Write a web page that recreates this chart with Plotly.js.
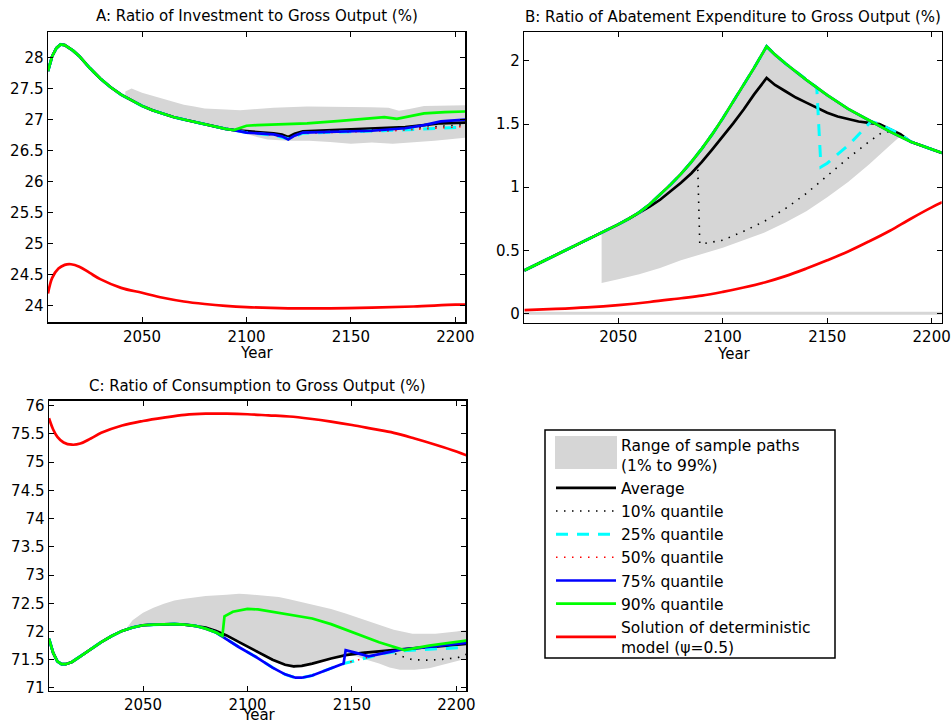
<!DOCTYPE html>
<html><head><meta charset="utf-8">
<script src="https://cdn.plot.ly/plotly-3.0.1.min.js"></script>
<style>html,body{margin:0;padding:0;background:#fff}#chart{width:951px;height:723px}</style>
</head><body><div id="chart"></div>
<script>
// ---------- Panel A: Investment / Gross Output (%) ----------
const commonA_years = [2005,2007,2009,2011,2013,2017,2020,2025,2030,2035,2040,2045,2050,2055,2060,2065,2070,2075,2080,2085,2090,2094];
const commonA = [27.78,28.02,28.15,28.21,28.20,28.11,28.02,27.83,27.66,27.52,27.40,27.31,27.22,27.15,27.09,27.04,27.00,26.96,26.92,26.88,26.85,26.83];
const avgA_years = [2100,2105,2113,2117,2120,2123,2127,2135,2145,2160,2176,2185,2193,2205];
const avgA = [26.81,26.80,26.78,26.76,26.72,26.77,26.81,26.82,26.83,26.85,26.88,26.91,26.94,26.95];
const q10A_years = [2100,2113,2120,2127,2145,2160,2180,2205];
const q10A = [26.80,26.77,26.71,26.80,26.82,26.84,26.86,26.92];
const q25A_years = [2100,2113,2120,2127,2150,2165,2180,2195,2205];
const q25A = [26.79,26.75,26.69,26.78,26.80,26.82,26.84,26.86,26.88];
const q50A_years = [2100,2113,2120,2127,2160,2170,2190,2205];
const q50A = [26.79,26.75,26.69,26.78,26.81,26.82,26.86,26.89];
const q75A_years = [2100,2113,2117,2120,2123,2127,2145,2160,2176,2185,2193,2205];
const q75A = [26.79,26.76,26.73,26.68,26.74,26.79,26.80,26.82,26.86,26.91,26.97,27.00];
const q90A_years = [2100,2105,2113,2129,2145,2155,2161,2166,2172,2177,2185,2195,2205];
const q90A = [26.90,26.91,26.92,26.94,26.98,27.01,27.03,27.04,27.01,27.04,27.10,27.12,27.13];
const bandA_up_years = [2042,2045,2050,2055,2060,2065,2070,2075,2080,2090,2097,2105,2113,2129,2145,2160,2168,2173,2178,2185,2205];
const bandA_up = [27.45,27.50,27.43,27.38,27.33,27.29,27.24,27.21,27.18,27.16,27.15,27.17,27.19,27.21,27.21,27.20,27.19,27.14,27.17,27.22,27.23];
const bandA_lo_years = [2042,2045,2050,2060,2070,2080,2090,2094,2100,2105,2110,2120,2130,2140,2150,2160,2170,2180,2190,2205];
const bandA_lo = [27.36,27.31,27.22,27.09,27.00,26.92,26.85,26.83,26.77,26.72,26.68,26.66,26.66,26.64,26.61,26.63,26.61,26.64,26.66,26.71];
const detA_years = [2005,2007,2010,2013,2016,2020,2025,2030,2040,2050,2060,2070,2080,2090,2100,2120,2140,2160,2180,2200,2205];
const detA = [24.20,24.45,24.60,24.66,24.67,24.63,24.53,24.43,24.29,24.21,24.13,24.07,24.03,24.00,23.98,23.96,23.96,23.97,23.99,24.02,24.02];

// ---------- Panel B: Abatement expenditure / Gross Output (%) ----------
const commonB_years = [2005,2010,2020,2030,2040,2045,2050,2055];
const commonB = [0.34,0.38,0.46,0.54,0.62,0.66,0.705,0.75];
const q90B_years = [2060,2065,2070,2075,2080,2085,2090,2095,2100,2105,2110,2115,2121,2125,2130,2140,2150,2160,2170,2180,2190,2200,2205];
const q90B = [0.80,0.865,0.94,1.02,1.105,1.20,1.305,1.42,1.545,1.675,1.81,1.945,2.115,2.05,1.98,1.85,1.73,1.62,1.53,1.44,1.36,1.30,1.27];
const q75B_years = q90B_years;
const q75B = q90B;
const q50B_years = q90B_years;
const q50B = q90B;
const avgB_years = [2060,2065,2070,2075,2080,2085,2090,2095,2100,2105,2110,2115,2121,2125,2130,2135,2140,2145,2150,2155,2160,2165,2170,2175,2180,2185,2190,2200,2205];
const avgB = [0.795,0.845,0.90,0.965,1.035,1.11,1.20,1.30,1.40,1.505,1.615,1.735,1.865,1.81,1.76,1.71,1.67,1.63,1.59,1.56,1.54,1.52,1.51,1.50,1.46,1.42,1.36,1.30,1.27];
const q10B_years = [2060,2065,2070,2075,2080,2085,2088,2089,2090,2100,2110,2120,2130,2140,2150,2160,2170,2176,2180,2190,2200,2205];
const q10B = [0.795,0.845,0.90,0.965,1.035,1.11,1.17,0.55,0.55,0.58,0.65,0.73,0.83,0.95,1.09,1.23,1.36,1.43,1.44,1.36,1.30,1.27];
const q25B_years = [2060,2065,2070,2075,2080,2085,2090,2095,2100,2105,2110,2115,2121,2125,2130,2140,2145,2147,2150,2160,2171,2175,2180,2185,2190,2200,2205];
const q25B = [0.80,0.865,0.94,1.02,1.105,1.20,1.305,1.42,1.545,1.675,1.81,1.945,2.115,2.05,1.98,1.85,1.79,1.16,1.19,1.33,1.52,1.50,1.46,1.42,1.36,1.30,1.27];
const bandB_up_years = [2042,2045,2050,2055,2060,2065,2070,2075,2080,2085,2090,2095,2100,2105,2110,2115,2121,2125,2130,2140,2150,2160,2170,2180,2185];
const bandB_up = [0.63,0.66,0.705,0.75,0.80,0.865,0.94,1.02,1.105,1.20,1.305,1.42,1.545,1.675,1.81,1.945,2.115,2.05,1.98,1.85,1.73,1.62,1.53,1.44,1.42];
const bandB_lo_years = [2042,2050,2060,2070,2080,2090,2100,2110,2120,2130,2140,2150,2160,2170,2180,2186];
const bandB_lo = [0.24,0.27,0.31,0.36,0.42,0.47,0.52,0.58,0.64,0.72,0.81,0.92,1.04,1.18,1.33,1.42];
const zeroB_years = [2005,2205];
const zeroB = [0,0];
const detB_years = [2005,2020,2035,2050,2065,2080,2090,2100,2110,2120,2130,2140,2150,2160,2170,2180,2190,2200,2205];
const detB = [0.025,0.035,0.048,0.066,0.09,0.12,0.14,0.17,0.205,0.245,0.295,0.355,0.42,0.49,0.57,0.655,0.75,0.84,0.88];

// ---------- Panel C: Consumption / Gross Output (%) ----------
const commonC_years = [2005,2007,2009,2011,2013,2016,2020,2025,2030,2035,2040,2045,2050,2055,2060,2065,2070,2075];
const commonC = [71.87,71.62,71.47,71.42,71.42,71.46,71.56,71.69,71.81,71.92,72.01,72.07,72.11,72.12,72.13,72.13,72.12,72.10];
const q90C_years = [2080,2085,2088,2089,2093,2100,2105,2112,2120,2131,2140,2147,2155,2163,2175,2187,2205];
const q90C = [72.05,71.98,71.92,72.27,72.35,72.40,72.39,72.35,72.30,72.23,72.13,72.03,71.92,71.81,71.67,71.75,71.84];
const avgC_years = [2080,2085,2090,2096,2104,2112,2118,2122,2126,2131,2140,2147,2155,2163,2179,2190,2205];
const avgC = [72.07,72.01,71.93,71.81,71.65,71.50,71.41,71.38,71.39,71.43,71.52,71.58,71.62,71.65,71.70,71.73,71.78];
const q75C_years = [2080,2085,2088,2096,2104,2112,2118,2123,2126,2131,2146,2147,2152,2158,2166,2174,2180,2190,2205];
const q75C = [72.05,71.98,71.91,71.72,71.55,71.36,71.24,71.18,71.18,71.22,71.43,71.67,71.62,71.56,71.62,71.68,71.70,71.74,71.80];
const q25C_years = [2080,2085,2088,2096,2104,2112,2118,2123,2126,2131,2146,2148,2157,2165,2175,2185,2195,2205];
const q25C = [72.05,71.98,71.91,71.72,71.55,71.36,71.24,71.18,71.18,71.22,71.43,71.45,71.54,71.61,71.66,71.68,71.70,71.72];
const q50C_years = [2080,2085,2088,2096,2104,2112,2118,2123,2126,2131,2146,2147,2153,2158,2166,2174,2180,2190,2205];
const q50C = [72.05,71.98,71.91,71.72,71.55,71.36,71.24,71.18,71.18,71.22,71.43,71.44,71.49,71.55,71.62,71.68,71.70,71.74,71.80];
const q10C_years = [2080,2085,2090,2096,2104,2112,2118,2122,2126,2131,2140,2147,2155,2163,2168,2172,2179,2187,2195,2201,2205];
const q10C = [72.07,72.01,71.93,71.81,71.65,71.50,71.41,71.38,71.39,71.43,71.52,71.58,71.62,71.65,71.66,71.58,71.50,71.49,71.51,71.54,71.60];
const bandC_up_years = [2042,2045,2050,2055,2060,2065,2070,2080,2090,2096,2100,2110,2115,2120,2131,2140,2147,2155,2163,2170,2179,2190,2200,2205];
const bandC_up = [72.05,72.20,72.33,72.42,72.49,72.55,72.58,72.63,72.65,72.67,72.66,72.62,72.61,72.57,72.48,72.40,72.32,72.22,72.11,72.03,71.96,71.96,72.00,72.03];
const bandC_lo_years = [2042,2045,2050,2055,2060,2065,2070,2075,2080,2085,2088,2090,2096,2104,2112,2118,2122,2126,2131,2140,2147,2152,2155,2163,2168,2173,2180,2187,2195,2205];
const bandC_lo = [72.03,72.07,72.11,72.12,72.13,72.13,72.12,72.10,72.05,71.97,71.91,71.93,71.81,71.65,71.50,71.41,71.38,71.39,71.43,71.52,71.58,71.56,71.52,71.43,71.36,71.32,71.32,71.35,71.42,71.52];
const detC_years = [2005,2007,2009,2012,2016,2020,2025,2030,2040,2050,2060,2070,2080,2090,2100,2110,2120,2130,2140,2150,2160,2170,2180,2190,2200,2205];
const detC = [75.78,75.58,75.45,75.35,75.31,75.33,75.42,75.52,75.65,75.73,75.79,75.84,75.86,75.86,75.85,75.83,75.81,75.77,75.72,75.66,75.59,75.52,75.42,75.31,75.19,75.12];

// ---------- Tick labels ----------
const xTicks = [2050,2100,2150,2200];
const xTickText = ['2050','2100','2150','2200'];
const yTicksA = [24,24.5,25,25.5,26,26.5,27,27.5,28];
const yTickTextA = ['24','24.5','25','25.5','26','26.5','27','27.5','28'];
const yTicksB = [0,0.5,1,1.5,2];
const yTickTextB = ['0','0.5','1','1.5','2'];
const yTicksC = [71,71.5,72,72.5,73,73.5,74,74.5,75,75.5,76];
const yTickTextC = ['71','71.5','72','72.5','73','73.5','74','74.5','75','75.5','76'];

const legendNames = ['Range of sample paths<br>(1% to 99%)','Average','10% quantile','25% quantile','50% quantile','75% quantile','90% quantile','Solution of deterministic<br>model (\u03c8=0.5)'];

// ---------- Build ----------
const FONT = 'DejaVu Sans';
const BAND = '#d6d6d6';
const styles = {
  avg: {color:'#000000', width:2.7},
  q10: {color:'#000000', width:1.6, dash:'1.5px,6.5px'},
  q25: {color:'#00ffff', width:3, dash:'12px,9px'},
  q50: {color:'#ff0000', width:1.6, dash:'1.5px,6.5px'},
  q75: {color:'#0000ff', width:2.7},
  q90: {color:'#00ff00', width:2.7},
  det: {color:'#ff0000', width:2.7, shape:'spline', smoothing:1}
};

const traces = [];
function band(xa, ya, upY, up, loY, lo, show){
  traces.push({x: upY.concat(loY.slice().reverse()), y: up.concat(lo.slice().reverse()),
    xaxis:xa, yaxis:ya, mode:'lines', fill:'toself', fillcolor:BAND,
    line:{width:0, color:BAND}, name:legendNames[0], legendgroup:'band',
    showlegend:show, hoverinfo:'skip'});
}
function line(xa, ya, xs, ys, key, idx, show){
  traces.push({x:xs, y:ys, xaxis:xa, yaxis:ya, mode:'lines', line:Object.assign({}, styles[key]),
    name:legendNames[idx], legendgroup:key, showlegend:show, hoverinfo:'skip'});
}
function cat(a,b){return a.concat(b);}

// Panel A
band('x','y', bandA_up_years, bandA_up, bandA_lo_years, bandA_lo, true);
line('x','y', cat(commonA_years,avgA_years), cat(commonA,avgA), 'avg',1,true);
line('x','y', cat(commonA_years,q10A_years), cat(commonA,q10A), 'q10',2,true);
line('x','y', cat(commonA_years,q25A_years), cat(commonA,q25A), 'q25',3,true);
line('x','y', cat(commonA_years,q50A_years), cat(commonA,q50A), 'q50',4,true);
line('x','y', cat(commonA_years,q75A_years), cat(commonA,q75A), 'q75',5,true);
line('x','y', cat(commonA_years,q90A_years), cat(commonA,q90A), 'q90',6,true);
line('x','y', detA_years, detA, 'det',7,true);

// Panel B
traces.push({x:zeroB_years, y:zeroB, xaxis:'x2', yaxis:'y2', mode:'lines', line:{color:BAND, width:3}, showlegend:false, hoverinfo:'skip'});
band('x2','y2', bandB_up_years, bandB_up, bandB_lo_years, bandB_lo, false);
line('x2','y2', cat(commonB_years,avgB_years), cat(commonB,avgB), 'avg',1,false);
line('x2','y2', cat(commonB_years,q10B_years), cat(commonB,q10B), 'q10',2,false);
line('x2','y2', cat(commonB_years,q25B_years), cat(commonB,q25B), 'q25',3,false);
line('x2','y2', cat(commonB_years,q50B_years), cat(commonB,q50B), 'q50',4,false);
line('x2','y2', cat(commonB_years,q75B_years), cat(commonB,q75B), 'q75',5,false);
line('x2','y2', cat(commonB_years,q90B_years), cat(commonB,q90B), 'q90',6,false);
line('x2','y2', detB_years, detB, 'det',7,false);

// Panel C
band('x3','y3', bandC_up_years, bandC_up, bandC_lo_years, bandC_lo, false);
line('x3','y3', cat(commonC_years,avgC_years), cat(commonC,avgC), 'avg',1,false);
line('x3','y3', cat(commonC_years,q10C_years), cat(commonC,q10C), 'q10',2,false);
line('x3','y3', cat(commonC_years,q25C_years), cat(commonC,q25C), 'q25',3,false);
line('x3','y3', cat(commonC_years,q50C_years), cat(commonC,q50C), 'q50',4,false);
line('x3','y3', cat(commonC_years,q75C_years), cat(commonC,q75C), 'q75',5,false);
line('x3','y3', cat(commonC_years,q90C_years), cat(commonC,q90C), 'q90',6,false);
line('x3','y3', detC_years, detC, 'det',7,false);

const W = 951, H = 723;
function ax(dom, range, tv, tt, anchor){
  return {domain:dom, range:range, anchor:anchor, tickmode:'array', tickvals:tv, ticktext:tt,
    ticks:'inside', ticklen:5, tickwidth:1, tickcolor:'#000', showline:true, linecolor:'#000',
    linewidth:1.5, mirror:'ticks', showgrid:false, zeroline:false,
    tickfont:{family:FONT, size:15, color:'#000'}, fixedrange:true};
}
function ann(text, px, py, size){
  return {text:text, x:px/W, y:1-py/H, xref:'paper', yref:'paper', xanchor:'center', yanchor:'middle',
    showarrow:false, font:{family:FONT, size:size, color:'#000'}};
}
const layout = {
  width:W, height:H, margin:{l:0,r:0,t:0,b:0}, paper_bgcolor:'#fff', plot_bgcolor:'#fff',
  showlegend:true,
  xaxis: ax([48/W, 465/W], [2005, 2204.6], xTicks, xTickText, 'y'),
  yaxis: ax([1-322/H, 1-32/H], [23.74, 28.41], yTicksA, yTickTextA, 'x'),
  xaxis2: ax([524.3/W, 941.7/W], [2005, 2204.8], xTicks, xTickText, 'y2'),
  yaxis2: ax([1-322.7/H, 1-32.3/H], [-0.074, 2.227], yTicksB, yTickTextB, 'x2'),
  xaxis3: ax([49/W, 466/W], [2005, 2204.6], xTicks, xTickText, 'y3'),
  yaxis3: ax([1-690.7/H, 1-400.7/H], [70.95, 76.09], yTicksC, yTickTextC, 'x3'),
  legend:{x:551/W, y:1-428/H, xanchor:'left', yanchor:'top', borderwidth:0,
    bgcolor:'rgba(255,255,255,0)', font:{family:FONT, size:15.5, color:'#000'}, itemwidth:60, tracegroupgap:0, traceorder:'normal'},
  shapes:[
    {type:'rect', xref:'paper', yref:'paper', layer:'below', x0:545/W, x1:835/W, y0:1-658/H, y1:1-430/H,
     fillcolor:'#fff', line:{width:1.5, color:'#000'}},
    {type:'rect', xref:'paper', yref:'paper', layer:'above', x0:555/W, x1:617/W, y0:1-469/H, y1:1-436/H,
     fillcolor:BAND, line:{width:0}}
  ],
  annotations:[
    ann('A: Ratio of Investment to Gross Output (%)', 257, 16, 15),
    ann('B: Ratio of Abatement Expenditure to Gross Output (%)', 733, 17, 15),
    ann('C: Ratio of Consumption to Gross Output (%)', 257, 385.5, 15),
    ann('Year', 257, 353, 15),
    ann('Year', 734, 354, 15),
    ann('Year', 259, 715, 15)
  ]
};
Plotly.newPlot('chart', traces, layout, {displayModeBar:false, staticPlot:true});
</script>
</body></html>
